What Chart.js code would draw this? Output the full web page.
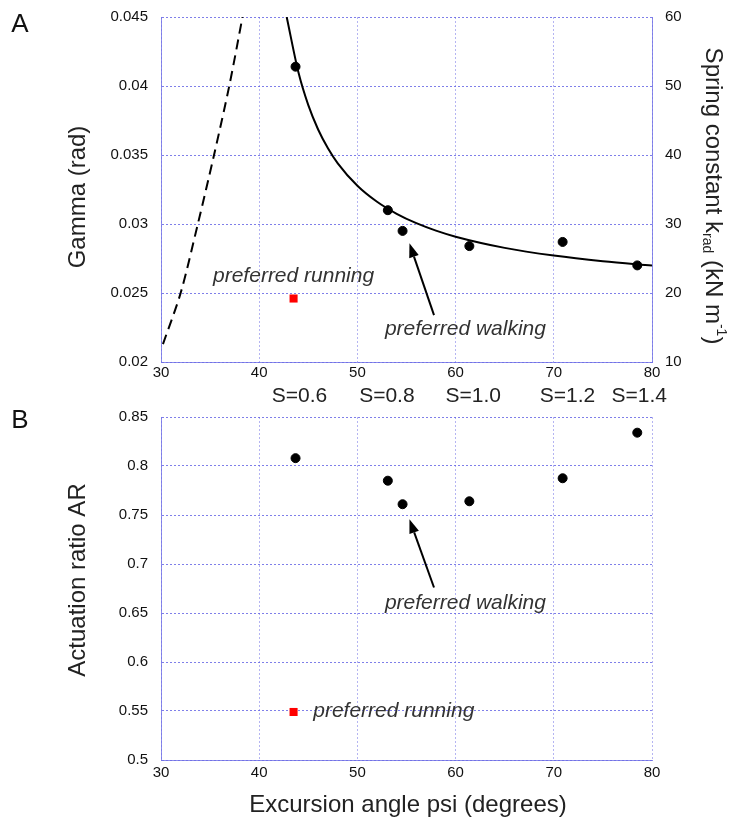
<!DOCTYPE html>
<html>
<head>
<meta charset="utf-8">
<script src="https://cdn.jsdelivr.net/npm/chart.js@4.4.1/dist/chart.umd.min.js"></script>
<style>
    body { margin: 0; background: #fff; width: 731px; height: 823px; position: relative; overflow: hidden; }
    .panel { position: absolute; left: 0; }
    #boxA { top: -5px; }
    #boxB { top: 395px; }
</style>
</head>
<body>
<div class="panel" id="boxA"><canvas id="chartA" width="731" height="415"></canvas></div>
<div class="panel" id="boxB"><canvas id="chartB" width="731" height="428"></canvas></div>
<script>
// Measured speeds: excursion angle psi (degrees)
const psi = [43.7, 53.1, 54.6, 61.4, 70.9, 78.5];
const gamma = [0.0414, 0.0310, 0.0295, 0.0284, 0.0287, 0.0270];
const actRatio = [0.808, 0.785, 0.761, 0.764, 0.7875, 0.834];

// Preferred running point
const runPsi = [43.5];
const runGamma = [0.0246];
const runAR = [0.549];

// Solid fitted curve (gamma axis)
const fitPsi = [42.8, 44, 45, 46, 47, 48, 50, 52, 54, 56, 58, 60, 65, 70, 75, 80];
const fitGamma = [0.0450, 0.04097, 0.03861, 0.03685, 0.03549, 0.03440, 0.03277, 0.03161, 0.03074, 0.03006, 0.02952, 0.02908, 0.02827, 0.02771, 0.02730, 0.02699];

// Dashed spring constant line (right axis, kN/m)
const springPsi = [30.2, 32.0, 33.75, 35.4, 36.95, 38.3];
const springK = [12.6, 20, 30, 40, 50, 60];

// Speed labels above panel B
const speedLabels = ['S=0.6', 'S=0.8', 'S=1.0', 'S=1.2', 'S=1.4'];
const speedPsi = [44.1, 53.0, 61.8, 71.4, 78.7];

const FONT = '"Liberation Sans", Arial, Helvetica, sans-serif';
const GRID_H = 'rgba(95, 95, 228, 0.8)';
const GRID_V = 'rgba(120, 120, 232, 0.55)';
const EDGE = 'rgba(110, 110, 230, 0.8)';

Chart.defaults.font.family = FONT;
Chart.defaults.color = '#111';

const pts = (xs, ys) => xs.map((x, i) => ({x: x, y: ys[i]}));
const fmt = v => String(+v.toFixed(3));

// Draw an arrow from tail to head
function arrow(ctx, x1, y1, x2, y2) {
    const ang = Math.atan2(y2 - y1, x2 - x1);
    const len = 14, half = 5;
    const bx = x2 - len * Math.cos(ang), by = y2 - len * Math.sin(ang);
    ctx.strokeStyle = '#000';
    ctx.fillStyle = '#000';
    ctx.lineWidth = 2;
    ctx.beginPath();
    ctx.moveTo(x1, y1);
    ctx.lineTo(bx, by);
    ctx.stroke();
    ctx.beginPath();
    ctx.moveTo(x2, y2);
    ctx.lineTo(bx + half * Math.sin(ang), by - half * Math.cos(ang));
    ctx.lineTo(bx - half * Math.sin(ang), by + half * Math.cos(ang));
    ctx.closePath();
    ctx.fill();
}

function rotatedText(ctx, text, x, y, angle, font) {
    ctx.save();
    ctx.translate(x, y);
    ctx.rotate(angle);
    ctx.font = font;
    ctx.textAlign = 'center';
    ctx.textBaseline = 'middle';
    ctx.fillText(text, 0, 0);
    ctx.restore();
}

function xAxis(height, pad) {
    return {
        type: 'linear', min: 30, max: 80,
        ticks: { stepSize: 10, padding: pad, font: { size: 15 }, color: '#111' },
        grid: { color: GRID_V, lineWidth: 1, drawTicks: false },
        border: { color: EDGE, dash: [2, 2] },
        afterFit: s => { s.height = height; }
    };
}

function yAxis(min, max, step, width, pos, onArea) {
    return {
        type: 'linear', position: pos, min: min, max: max,
        ticks: { stepSize: step, padding: 13, font: { size: 15 }, color: '#111', callback: fmt },
        grid: { color: GRID_H, lineWidth: 1, drawTicks: false, drawOnChartArea: onArea },
        border: { color: EDGE, dash: [2, 2] },
        afterFit: s => { s.width = width; }
    };
}

// Panel A extras: titles, annotations, speed labels (canvas sits 5px above page top)
const extrasA = {
    id: 'extrasA',
    afterDraw(chart) {
        const { ctx, scales: { x, y } } = chart;
        ctx.save();
        ctx.fillStyle = '#111';
        ctx.font = '26px ' + FONT;
        ctx.textAlign = 'center';
        ctx.textBaseline = 'middle';
        ctx.fillText('A', 20, 30);

        ctx.fillStyle = '#222';
        rotatedText(ctx, 'Gamma (rad)', 78, 202, -Math.PI / 2, '24px ' + FONT);

        // right title with sub/superscript, reading top to bottom
        ctx.save();
        ctx.translate(713, 201);
        ctx.rotate(Math.PI / 2);
        ctx.textBaseline = 'middle';
        ctx.textAlign = 'left';
        const big = '24px ' + FONT, small = '14px ' + FONT;
        const parts = [
            ['Spring constant k', big, 0],
            ['rad', small, 6],
            [' (kN m', big, 0],
            ['-1', small, -8],
            [')', big, 0]
        ];
        let total = 0;
        parts.forEach(p => { ctx.font = p[1]; total += ctx.measureText(p[0]).width; });
        let cx = -total / 2;
        parts.forEach(p => {
            ctx.font = p[1];
            ctx.fillText(p[0], cx, p[2]);
            cx += ctx.measureText(p[0]).width;
        });
        ctx.restore();

        ctx.fillStyle = '#333';
        ctx.font = 'italic 21px ' + FONT;
        ctx.fillText('preferred running', x.getPixelForValue(43.5), y.getPixelForValue(0.0262));
        ctx.fillText('preferred walking', x.getPixelForValue(61.0), y.getPixelForValue(0.0224));
        arrow(ctx, x.getPixelForValue(57.8), y.getPixelForValue(0.0234),
                   x.getPixelForValue(55.3), y.getPixelForValue(0.0286));

        ctx.fillStyle = '#222';
        ctx.font = '21px ' + FONT;
        speedLabels.forEach((s, i) => ctx.fillText(s, x.getPixelForValue(speedPsi[i]), 401));
        ctx.restore();
    }
};

// Panel B extras (canvas starts at page y = 395)
const extrasB = {
    id: 'extrasB',
    afterDraw(chart) {
        const { ctx, scales: { x, y } } = chart;
        ctx.save();
        ctx.fillStyle = '#111';
        ctx.font = '26px ' + FONT;
        ctx.textAlign = 'center';
        ctx.textBaseline = 'middle';
        ctx.fillText('B', 20, 26);

        ctx.fillStyle = '#222';
        rotatedText(ctx, 'Actuation ratio AR', 78, 185, -Math.PI / 2, '24px ' + FONT);
        ctx.font = '24px ' + FONT;
        ctx.fillText('Excursion angle psi (degrees)', 408, 410);

        ctx.fillStyle = '#333';
        ctx.font = 'italic 21px ' + FONT;
        ctx.fillText('preferred walking', x.getPixelForValue(61.0), y.getPixelForValue(0.660));
        ctx.textAlign = 'left';
        ctx.fillText('preferred running', x.getPixelForValue(45.5), y.getPixelForValue(0.550));
        arrow(ctx, x.getPixelForValue(57.8), y.getPixelForValue(0.676),
                   x.getPixelForValue(55.3), y.getPixelForValue(0.7457));
        ctx.restore();
    }
};

new Chart(document.getElementById('chartA'), {
    type: 'scatter',
    data: {
        datasets: [
            {
                type: 'line', data: pts(fitPsi, fitGamma), yAxisID: 'y',
                borderColor: '#000', borderWidth: 2, pointRadius: 0,
                cubicInterpolationMode: 'monotone', fill: false
            },
            {
                type: 'line', data: pts(springPsi, springK), yAxisID: 'y2',
                borderColor: '#000', borderWidth: 2, borderDash: [10, 6], pointRadius: 0,
                tension: 0.3, fill: false
            },
            {
                data: pts(psi, gamma), yAxisID: 'y',
                backgroundColor: '#000', borderColor: '#000', pointRadius: 4.5
            },
            {
                data: pts(runPsi, runGamma), yAxisID: 'y', pointStyle: 'rect',
                backgroundColor: '#ff0000', borderColor: '#ff0000', borderWidth: 0, pointRadius: 5.7
            }
        ]
    },
    options: {
        responsive: false,
        animation: false,
        layout: { padding: { top: 12, left: 0, right: 0, bottom: 0 } },
        plugins: { legend: { display: false }, tooltip: { enabled: false } },
        scales: {
            x: xAxis(48, 2),
            y: yAxis(0.02, 0.045, 0.005, 161, 'left', true),
            y2: yAxis(10, 60, 10, 79, 'right', false)
        }
    },
    plugins: [extrasA]
});

new Chart(document.getElementById('chartB'), {
    type: 'scatter',
    data: {
        datasets: [
            {
                data: pts(psi, actRatio),
                backgroundColor: '#000', borderColor: '#000', pointRadius: 4.5
            },
            {
                data: pts(runPsi, runAR), pointStyle: 'rect',
                backgroundColor: '#ff0000', borderColor: '#ff0000', borderWidth: 0, pointRadius: 5.7
            }
        ]
    },
    options: {
        responsive: false,
        animation: false,
        layout: { padding: { top: 12, left: 0, right: 79, bottom: 0 } },
        plugins: { legend: { display: false }, tooltip: { enabled: false } },
        scales: {
            x: xAxis(63, 4),
            y: yAxis(0.5, 0.85, 0.05, 161, 'left', true)
        }
    },
    plugins: [extrasB]
});
</script>
</body>
</html>
